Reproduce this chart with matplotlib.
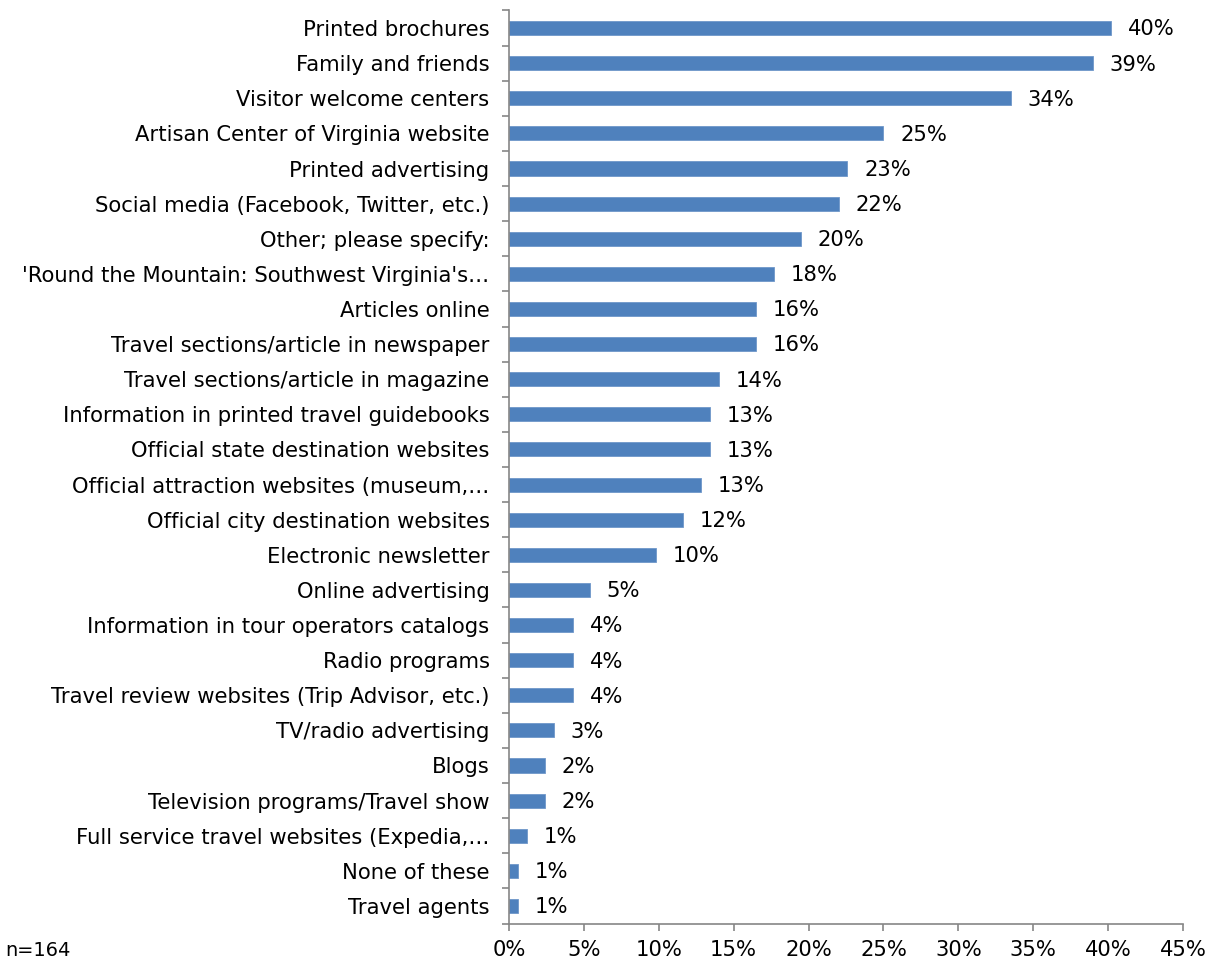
import numpy as np
import matplotlib.pyplot as plt
from matplotlib.ticker import FuncFormatter, MultipleLocator

# --- Data (share of respondents, n=164), top to bottom ---
sources = [
    "Printed brochures",
    "Family and friends",
    "Visitor welcome centers",
    "Artisan Center of Virginia website",
    "Printed advertising",
    "Social media (Facebook, Twitter, etc.)",
    "Other; please specify:",
    "'Round the Mountain: Southwest Virginia's\u2026",
    "Articles online",
    "Travel sections/article in newspaper",
    "Travel sections/article in magazine",
    "Information in printed travel guidebooks",
    "Official state destination websites",
    "Official attraction websites (museum,\u2026",
    "Official city destination websites",
    "Electronic newsletter",
    "Online advertising",
    "Information in tour operators catalogs",
    "Radio programs",
    "Travel review websites (Trip Advisor, etc.)",
    "TV/radio advertising",
    "Blogs",
    "Television programs/Travel show",
    "Full service travel websites (Expedia,\u2026",
    "None of these",
    "Travel agents",
]
share = [40.2, 39.0, 33.5, 25.0, 22.6, 22.0, 19.5, 17.7, 16.5, 16.5, 14.0, 13.4, 13.4,
         12.8, 11.6, 9.8, 5.4, 4.3, 4.3, 4.3, 3.0, 2.4, 2.4, 1.2, 0.6, 0.6]
sample_note = "n=164"

BAR = "#4F81BD"
AXIS = "#868686"
FONT = "DejaVu Sans"
FS = 15.2

plt.rcParams['font.family'] = [FONT]

fig = plt.figure(figsize=(12.14, 9.66), dpi=100)
ax = fig.add_axes([509 / 1214, 1 - 923.5 / 966, 674 / 1214, 913 / 966])

y = np.arange(len(sources))
ax.barh(y, share, height=0.4, color=BAR, edgecolor="#6f97c9", linewidth=0.6, zorder=2)

for yi, v in zip(y, share):
    ax.annotate(f"{v:.0f}%", xy=(v, yi), xytext=(12, -1), textcoords="offset points",
                va="center", ha="left", fontsize=FS, color="black")

ax.set_ylim(len(sources) - 0.5, -0.5)
ax.set_xlim(0, 45)
ax.set_yticks(y)
ax.set_yticklabels(sources)
ax.set_yticks(np.arange(len(sources) + 1) - 0.5, minor=True)
ax.xaxis.set_major_locator(MultipleLocator(5))
ax.xaxis.set_major_formatter(FuncFormatter(lambda v, p: f"{v:.0f}%"))

for s in ["top", "right"]:
    ax.spines[s].set_visible(False)
for s in ["left", "bottom"]:
    ax.spines[s].set_color(AXIS)
    ax.spines[s].set_linewidth(1.2)

ax.tick_params(axis="y", which="major", length=0, pad=14, labelsize=FS)
ax.tick_params(axis="y", which="minor", length=5, width=1.2, color=AXIS)
ax.tick_params(axis="x", which="major", length=5, width=1.2, color=AXIS, pad=7, labelsize=FS)

fig.text(5 / 1214, 1 - 951 / 966, sample_note, fontsize=FS * 0.92, va="center", ha="left")

plt.savefig("out.png", dpi=100)
